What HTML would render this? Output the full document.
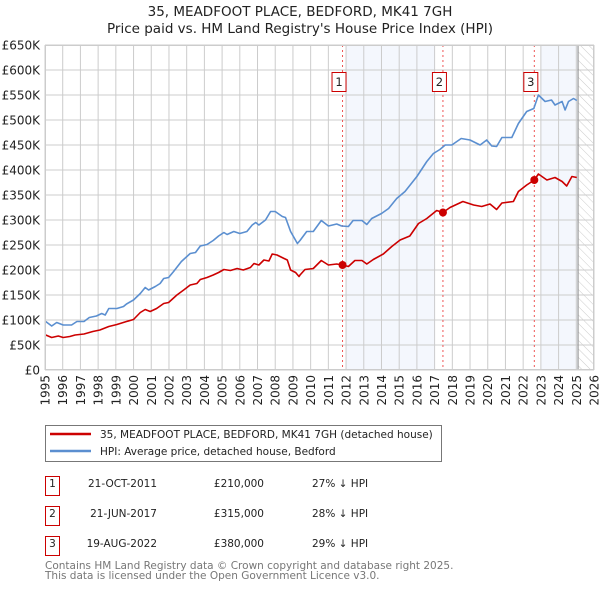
<!DOCTYPE html>
<html><head><meta charset="utf-8"><style>
body{margin:0;background:#fff;font-family:"DejaVu Sans","Liberation Sans",sans-serif;}
svg text{font-family:"DejaVu Sans","Liberation Sans",sans-serif;}
</style></head><body>
<svg id="c" width="600" height="590" viewBox="0 0 600 590" xmlns="http://www.w3.org/2000/svg">
<defs><pattern id="hatch" width="6" height="6" patternUnits="userSpaceOnUse" patternTransform="rotate(-45)"><line x1="0" y1="0" x2="0" y2="6" stroke="#ccc" stroke-width="1"/></pattern></defs>
<text x="300" y="16" text-anchor="middle" font-size="13.5" fill="#222">35, MEADFOOT PLACE, BEDFORD, MK41 7GH</text>
<text x="300" y="33" text-anchor="middle" font-size="13.5" fill="#222">Price paid vs. HM Land Registry's House Price Index (HPI)</text>
<g id="plot"></g>
<g>
<rect x="45.5" y="425.5" width="396" height="36" fill="#fff" stroke="#777"/>
<line x1="50" y1="434" x2="91" y2="434" stroke="#cc0000" stroke-width="2.5"/>
<text x="100" y="438" font-size="10.5" fill="#222">35, MEADFOOT PLACE, BEDFORD, MK41 7GH (detached house)</text>
<line x1="50" y1="451" x2="91" y2="451" stroke="#5b8fd0" stroke-width="2.5"/>
<text x="100" y="455" font-size="10.5" fill="#222">HPI: Average price, detached house, Bedford</text>
</g>
<g font-size="10.5" fill="#222">
<rect x="45.5" y="476.5" width="14" height="19" fill="#fff" stroke="#cc0000"/><text x="52.5" y="487" text-anchor="middle">1</text>
<text x="157" y="487" text-anchor="end">21-OCT-2011</text><text x="264" y="487" text-anchor="end">£210,000</text><text x="312" y="487">27% ↓ HPI</text>
<rect x="45.5" y="506.5" width="14" height="19" fill="#fff" stroke="#cc0000"/><text x="52.5" y="517" text-anchor="middle">2</text>
<text x="157" y="517" text-anchor="end">21-JUN-2017</text><text x="264" y="517" text-anchor="end">£315,000</text><text x="312" y="517">28% ↓ HPI</text>
<rect x="45.5" y="536.5" width="14" height="19" fill="#fff" stroke="#cc0000"/><text x="52.5" y="547" text-anchor="middle">3</text>
<text x="157" y="547" text-anchor="end">19-AUG-2022</text><text x="264" y="547" text-anchor="end">£380,000</text><text x="312" y="547">29% ↓ HPI</text>
</g>
<text x="45" y="569" font-size="10.5" fill="#777">Contains HM Land Registry data © Crown copyright and database right 2025.</text>
<text x="45" y="579" font-size="10.5" fill="#777">This data is licensed under the Open Government Licence v3.0.</text>
</svg>
<script>
const yearTicks=[1995,1996,1997,1998,1999,2000,2001,2002,2003,2004,2005,2006,2007,2008,2009,2010,2011,2012,2013,2014,2015,2016,2017,2018,2019,2020,2021,2022,2023,2024,2025,2026];
const valueTicks=[0,50,100,150,200,250,300,350,400,450,500,550,600,650];
const valueLabels=["£0","£50K","£100K","£150K","£200K","£250K","£300K","£350K","£400K","£450K","£500K","£550K","£600K","£650K"];
const hpiYears=[1995.04,1995.38,1995.66,1996.03,1996.5,1996.8,1997.2,1997.5,1997.9,1998.2,1998.4,1998.6,1999.06,1999.43,1999.6,2000.0,2000.38,2000.66,2000.85,2001.23,2001.5,2001.7,2001.98,2002.26,2002.7,2003.2,2003.5,2003.77,2004.15,2004.5,2004.8,2005.1,2005.28,2005.66,2006.0,2006.4,2006.7,2006.9,2007.08,2007.45,2007.74,2008.0,2008.4,2008.58,2008.87,2009.25,2009.4,2009.78,2010.15,2010.6,2011.0,2011.47,2011.75,2012.13,2012.4,2012.9,2013.17,2013.45,2014.0,2014.4,2014.86,2015.33,2016.0,2016.56,2016.93,2017.3,2017.6,2017.97,2018.5,2019.0,2019.57,2019.94,2020.23,2020.5,2020.8,2021.36,2021.73,2022.2,2022.6,2022.86,2023.24,2023.6,2023.8,2024.2,2024.37,2024.56,2024.84,2025.03];
const hpiValues=[97,88,95,90,90,97,97,105,108,113,110,123,123,127,132,140,153,165,160,167,173,183,185,197,217,233,235,248,251,259,268,275,271,277,273,277,290,295,290,300,317,317,307,305,277,253,259,277,277,299,288,292,288,287,299,299,291,303,313,323,343,357,387,417,433,441,450,450,463,460,450,460,448,447,465,465,493,517,523,550,537,540,530,537,520,537,543,539];
const priceYears=[1995.04,1995.38,1995.75,1996.03,1996.4,1996.7,1997.2,1997.7,1998.1,1998.6,1999.06,1999.6,2000.0,2000.38,2000.66,2000.94,2001.3,2001.7,2001.98,2002.45,2002.83,2003.2,2003.58,2003.77,2004.15,2004.5,2004.8,2005.1,2005.47,2005.85,2006.2,2006.6,2006.8,2007.08,2007.36,2007.64,2007.83,2008.1,2008.5,2008.68,2008.87,2009.15,2009.34,2009.4,2009.68,2010.15,2010.6,2011.0,2011.47,2011.8,2012.13,2012.5,2012.9,2013.17,2013.54,2014.1,2014.58,2015.05,2015.6,2016.09,2016.56,2017.12,2017.47,2017.87,2018.6,2019.2,2019.66,2020.13,2020.5,2020.8,2021.45,2021.73,2022.2,2022.63,2022.86,2023.34,2023.8,2024.2,2024.46,2024.75,2025.03];
const priceValues=[70,65,68,65,67,70,72,77,80,87,91,97,101,115,121,117,123,133,135,150,160,170,173,181,185,190,195,201,199,203,200,205,213,210,220,218,232,230,223,220,200,195,187,190,201,203,219,210,212,210,207,219,219,212,221,232,247,260,268,293,303,319,315,325,337,330,327,332,321,334,337,357,370,380,392,380,385,377,368,387,385];
const saleYears=[2011.8,2017.47,2022.63];
const saleValues=[210,315,380];
const saleLabels=["1","2","3"];
const shadeRanges=[[2012,2017],[2023,2025.1]];
const dataEnd=2025.1;

const X0=45,X1=594,Y0=370,Y1=45;
const sx=y=>X0+(y-1995)/(2026-1995)*(X1-X0);
const sy=v=>Y0-(v/650)*(Y0-Y1);
const NS="http://www.w3.org/2000/svg";
const g=document.getElementById('plot');
function mk(tag,attrs){const e=document.createElementNS(NS,tag);for(const k in attrs)e.setAttribute(k,attrs[k]);g.appendChild(e);return e;}

shadeRanges.forEach(r=>{const e=mk('rect',{x:sx(r[0]),y:Y1,width:sx(r[1])-sx(r[0]),height:Y0-Y1,fill:'#f4f7fd'});

});
const h=mk('rect',{x:sx(dataEnd),y:Y1,width:X1-sx(dataEnd),height:Y0-Y1,fill:'url(#hatch)'});


yearTicks.forEach(y=>{const l=mk('line',{x1:sx(y),x2:sx(y),y1:Y1,y2:Y0,stroke:'#cccccc','stroke-width':1});


const t=mk('text',{x:0,y:0,'font-size':12,fill:'#222','text-anchor':'end',transform:`translate(${sx(y)+4.5},${375}) rotate(-90)`});
t.textContent=y;

});
valueTicks.forEach((v,i)=>{const l=mk('line',{x1:X0,x2:X1,y1:sy(v),y2:sy(v),stroke:'#cccccc','stroke-width':1});


const t=mk('text',{x:40,y:sy(v)+4.5,'font-size':12,fill:'#222','text-anchor':'end'});
t.textContent=valueLabels[i];

});
const el=mk('line',{x1:sx(dataEnd),x2:sx(dataEnd),y1:Y1,y2:Y0,stroke:'#999','stroke-width':1.2});


saleYears.forEach((y,i)=>{const l=mk('line',{x1:sx(y),x2:sx(y),y1:Y1,y2:Y0,stroke:'#ee5555','stroke-width':1,'stroke-dasharray':'2,3'});


const b=mk('rect',{x:sx(y)-10.5,y:72.5,width:14,height:19,fill:'#fff',stroke:'#cc0000'});


const t=mk('text',{x:sx(y)-3.5,y:86,'font-size':11.5,fill:'#222','text-anchor':'middle'});
t.textContent=saleLabels[i];

});
function line(xs,vs,color,name){const p=mk('path',{d:xs.map((x,i)=>(i?'L':'M')+sx(x).toFixed(1)+','+sy(vs[i]).toFixed(1)).join(''),fill:'none',stroke:color,'stroke-width':1.6,'stroke-linejoin':'round'});

}
line(hpiYears,hpiValues,'#5b8fd0','hpi-line');
line(priceYears,priceValues,'#cc0000','price-line');
saleYears.forEach((y,i)=>{const c=mk('circle',{cx:sx(y),cy:sy(saleValues[i]),r:4,fill:'#cc0000'});

});
const f=mk('rect',{x:X0+0.5,y:Y1+0.5,width:X1-X0-1,height:Y0-Y1-1,fill:'none',stroke:'#ccc'});


</script>
</body></html>
